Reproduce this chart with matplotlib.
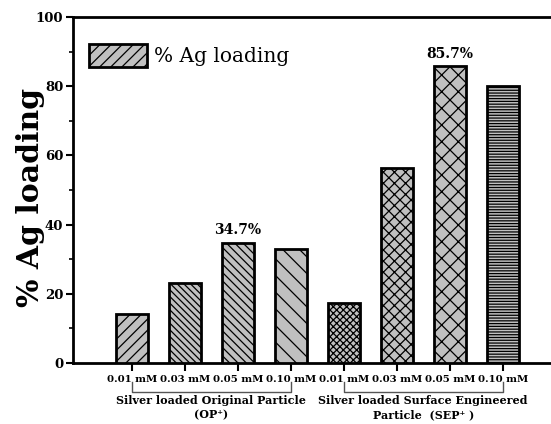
import matplotlib
matplotlib.use("Agg")
import matplotlib.pyplot as plt
from matplotlib.patches import Patch
from matplotlib.ticker import MultipleLocator
import numpy as np

concentrations = ["0.01 mM", "0.03 mM", "0.05 mM", "0.10 mM",
                  "0.01 mM", "0.03 mM", "0.05 mM", "0.10 mM"]
ag_loading = [14.2, 23.1, 34.7, 32.9, 17.2, 56.5, 85.7, 80.0]
hatches = ["///", "\\\\\\\\\\", "\\\\\\\\", "\\\\", "xxxxx", "xxx", "xx", "------"]
group_labels = ["Silver loaded Original Particle\n(OP\u207a)",
                "Silver loaded Surface Engineered\nParticle  (SEP\u207a )"]
annotated = {2: "34.7%", 6: "85.7%"}
legend_label = "% Ag loading"
y_label = "% Ag loading"

plt.rcParams['font.family'] = ['DejaVu Serif']
plt.rcParams['hatch.linewidth'] = 0.9

W, H = 551, 424
fig = plt.figure(figsize=(W / 100, H / 100), dpi=100)
ax_l, ax_r, ax_t, ax_b = 73, 560, 17, 363
ax = fig.add_axes([ax_l / W, (H - ax_b) / H, (ax_r - ax_l) / W, (ax_b - ax_t) / H])

x = np.arange(len(ag_loading))
bars = ax.bar(x, ag_loading, width=0.6, color="#c0c0c0", edgecolor="black",
              linewidth=2, zorder=3)
for b, h in zip(bars, hatches):
    b.set_hatch(h)

for i, txt in annotated.items():
    ax.text(x[i], ag_loading[i] + 1.6, txt, ha="center", va="bottom",
            fontsize=10, fontweight="bold")

ax.set_xlim(-1.107, 8.08)
ax.set_ylim(0, 100)
ax.set_xticks(x)
ax.set_xticklabels(concentrations, fontsize=7.3, fontweight="bold")
ax.yaxis.set_major_locator(MultipleLocator(20))
ax.yaxis.set_minor_locator(MultipleLocator(10))
for lab in ax.get_yticklabels():
    lab.set_fontweight("bold")
    lab.set_fontsize(9.5)
ax.tick_params(axis="y", which="major", direction="out", length=5, width=1.5, pad=2)
ax.tick_params(axis="y", which="minor", direction="out", length=3, width=1.2)
ax.tick_params(axis="x", which="major", direction="out", length=6, width=1.5, pad=3)
for s in ["left", "bottom", "top", "right"]:
    ax.spines[s].set_linewidth(2)

ax.set_ylabel(y_label, fontsize=21.5, fontweight="bold")
ax.yaxis.set_label_coords(-0.088, 0.478)
ax.yaxis.label.set_va("center")

# group brackets
trans = ax.get_xaxis_transform()
y1, y2 = -(382 - ax_b) / (ax_b - ax_t), -(392 - ax_b) / (ax_b - ax_t)
for g, (a, b) in enumerate([(0, 3), (4, 7)]):
    ax.plot([x[a], x[a], x[b], x[b]], [y1, y2, y2, y1], color="#555555",
            lw=1, transform=trans, clip_on=False)
    ax.text((x[a] + x[b]) / 2, -(395 - ax_b) / (ax_b - ax_t), group_labels[g],
            transform=trans, ha="center", va="top", fontsize=8,
            fontweight="bold", linespacing=1.35)

handle = Patch(facecolor="#c0c0c0", edgecolor="black", hatch="///", linewidth=2)
ax.legend([handle], [legend_label], loc="upper left",
          bbox_to_anchor=(0.033, 0.922), frameon=False, fontsize=14.5,
          handlelength=2.9, handleheight=1.4, borderpad=0, borderaxespad=0,
          handletextpad=0.3)

fig.savefig("out.png", dpi=100)
